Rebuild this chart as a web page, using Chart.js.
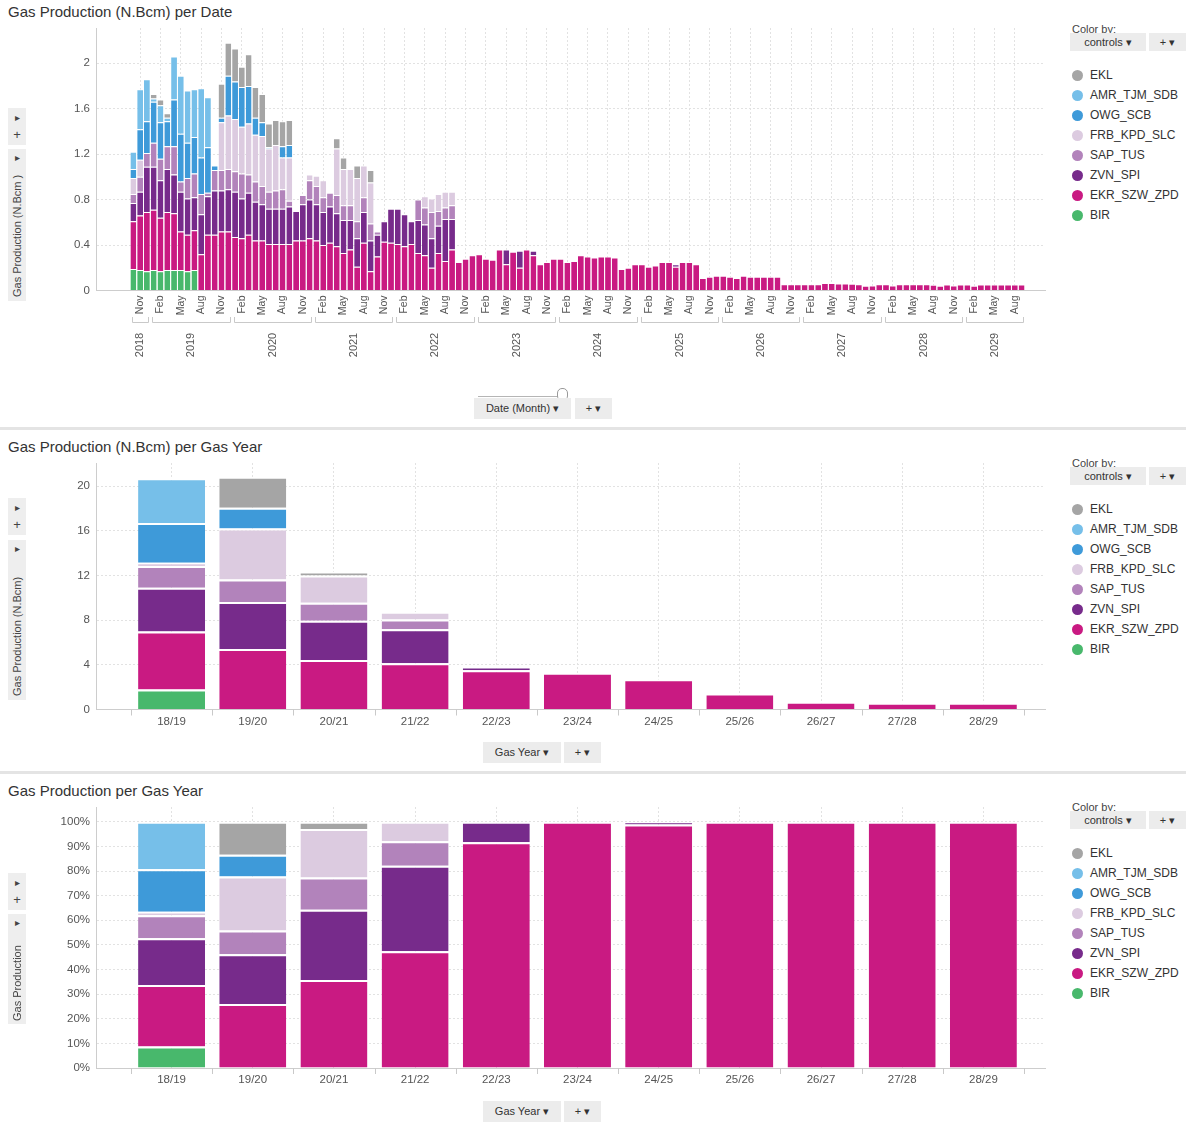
<!DOCTYPE html>
<html>
<head>
<meta charset="utf-8">
<script src="https://cdn.jsdelivr.net/npm/chart.js@4.4.1/dist/chart.umd.min.js"></script>
<style>
  body { margin: 0; background: #fff; font-family: "Liberation Sans", Arial, sans-serif; color: #333; }
  #page { position: relative; width: 1186px; height: 1122px; overflow: hidden; }
  canvas { position: absolute; left: 0; }
  .title { position: absolute; left: 8px; font-size: 15px; color: #333; white-space: nowrap; }
  .sep { position: absolute; left: 0; width: 1186px; height: 3px; background: #e4e4e4; }
  .box { position: absolute; background: #ececec; font-size: 11px; color: #333; line-height: 20px; text-align: center; white-space: nowrap; z-index: 2; }
  .tb { position: absolute; left: 8px; width: 18px; background: #eeeeee; font-size: 10px; color: #444; z-index: 2; }
  .tb span { position: absolute; left: 0; width: 18px; text-align: center; }
  .vlabel { position: absolute; white-space: nowrap; font-size: 11px; color: #444; transform: rotate(-90deg); transform-origin: left top; }
  .colorby { position: absolute; left: 1072px; font-size: 11px; color: #444; }
  .leg { position: absolute; left: 1072px; font-size: 12px; color: #333; white-space: nowrap; line-height: 14px; }
  .leg i { display: inline-block; width: 11px; height: 11px; border-radius: 50%; vertical-align: -2px; margin-right: 7px; }
</style>
</head>
<body>
<div id="page">
  <div class="title" style="top:3px">Gas Production (N.Bcm) per Date</div>
  <div class="title" style="top:438px">Gas Production (N.Bcm) per Gas Year</div>
  <div class="title" style="top:782px">Gas Production per Gas Year</div>
  <div class="sep" style="top:427px"></div>
  <div class="sep" style="top:771px"></div>

  <canvas id="c1" width="1060" height="400" style="top:0"></canvas>
  <canvas id="c2" width="1060" height="340" style="top:430px"></canvas>
  <canvas id="c3" width="1060" height="347" style="top:775px"></canvas>

  <!-- left toolbars -->
  <div class="tb" style="top:108px;height:37px"><span style="top:4px">&#9656;</span><span style="top:19px;font-size:13px">+</span></div>
  <div class="tb" style="top:149px;height:152px"><span style="top:3px">&#9656;</span><div class="vlabel" style="left:3px;top:148px">Gas Production (N.Bcm )</div></div>
  <div class="tb" style="top:498px;height:37px"><span style="top:4px">&#9656;</span><span style="top:19px;font-size:13px">+</span></div>
  <div class="tb" style="top:540px;height:160px"><span style="top:3px">&#9656;</span><div class="vlabel" style="left:3px;top:156px">Gas Production (N.Bcm)</div></div>
  <div class="tb" style="top:873px;height:37px"><span style="top:4px">&#9656;</span><span style="top:19px;font-size:13px">+</span></div>
  <div class="tb" style="top:914px;height:110px"><span style="top:3px">&#9656;</span><div class="vlabel" style="left:3px;top:107px">Gas Production</div></div>

  <!-- bottom selectors -->
  <div style="position:absolute;left:478px;top:396px;width:82px;height:1px;background:#b5b5b5"></div>
  <div style="position:absolute;left:557px;top:388px;width:9px;height:11px;border:1px solid #999;border-radius:5px;background:#fff"></div>
  <div class="box" style="left:474px;top:398px;width:97px;height:21px">Date (Month) &#9662;</div>
  <div class="box" style="left:575px;top:398px;width:37px;height:21px">+ &#9662;</div>
  <div class="box" style="left:483px;top:742px;width:78px;height:21px">Gas Year &#9662;</div>
  <div class="box" style="left:564px;top:742px;width:37px;height:21px">+ &#9662;</div>
  <div class="box" style="left:483px;top:1101px;width:78px;height:21px">Gas Year &#9662;</div>
  <div class="box" style="left:564px;top:1101px;width:37px;height:21px">+ &#9662;</div>

  <div id="legends"></div>
</div>

<script>
// series, bottom of the stack first
const seriesNames = ['BIR', 'EKR_SZW_ZPD', 'ZVN_SPI', 'SAP_TUS', 'FRB_KPD_SLC', 'OWG_SCB', 'AMR_TJM_SDB', 'EKL'];
const seriesColors = ['#48b86c', '#c91a82', '#772b8b', '#b283bb', '#dccbe0', '#3e9ad9', '#76bfe9', '#a5a5a5'];

// monthly production, N.Bcm, first value = Oct 2018
const startYear = 2018, startMonth = 9, monthCount = 132;
const years = [2018, 2019, 2020, 2021, 2022, 2023, 2024, 2025, 2026, 2027, 2028, 2029];
const monthTicks = {1: 'Feb', 4: 'May', 7: 'Aug', 10: 'Nov'};

const birMonthly = [0.19, 0.18, 0.17, 0.18, 0.17, 0.18, 0.18, 0.18, 0.17, 0.18];
const ekrMonthly = [
  0.42, 0.48, 0.52, 0.53, 0.47, 0.51, 0.50, 0.34, 0.32, 0.35, 0.32, 0.49,
  0.49, 0.52, 0.52, 0.47, 0.46, 0.49, 0.44, 0.44, 0.41, 0.41, 0.41, 0.41,
  0.44, 0.44, 0.46, 0.44, 0.40, 0.42, 0.39, 0.33, 0.36, 0.21, 0.42, 0.17,
  0.30, 0.43, 0.42, 0.41, 0.39, 0.41, 0.33, 0.31, 0.20, 0.33, 0.26, 0.36,
  0.25, 0.28, 0.31, 0.32, 0.28, 0.27, 0.36, 0.23, 0.34, 0.20, 0.36, 0.31,
  0.23, 0.25, 0.28, 0.28, 0.25, 0.26, 0.31, 0.30, 0.29, 0.30, 0.30, 0.29,
  0.19, 0.20, 0.23, 0.23, 0.21, 0.22, 0.25, 0.25, 0.21, 0.25, 0.25, 0.23,
  0.11, 0.12, 0.13, 0.13, 0.12, 0.11, 0.13, 0.12, 0.12, 0.12, 0.12, 0.12,
  0.055, 0.055, 0.055, 0.055, 0.055, 0.055, 0.065, 0.065, 0.062, 0.062, 0.06, 0.055,
  0.042, 0.045, 0.055, 0.055, 0.045, 0.055, 0.055, 0.055, 0.055, 0.055, 0.05, 0.042,
  0.052, 0.045, 0.052, 0.052, 0.042, 0.052, 0.052, 0.052, 0.052, 0.052, 0.052, 0.052
];
const zvnMonthly = [
  0.16, 0.21, 0.40, 0.38, 0.33, 0.38, 0.34, 0.35, 0.32, 0.29, 0.35, 0.34,
  0.39, 0.36, 0.37, 0.40, 0.35, 0.37, 0.34, 0.32, 0.31, 0.31, 0.31, 0.33,
  0.26, 0.32, 0.34, 0.32, 0.29, 0.32, 0.29, 0.29, 0.26, 0.25, 0.27, 0.27,
  0.19, 0.18, 0.30, 0.31, 0.28, 0.20, 0.29, 0.27, 0.26, 0.24, 0.37, 0.27,
  0, 0, 0, 0, 0, 0, 0, 0.13, 0, 0.15, 0, 0.04,
  0, 0, 0, 0, 0, 0, 0, 0, 0, 0, 0, 0,
  0, 0, 0, 0, 0, 0, 0, 0, 0.02
];
const sapMonthly = [
  0.08, 0.13, 0.12, 0.21, 0.19, 0.20, 0.25, 0.09, 0.18, 0.21, 0.18, 0.03,
  0.18, 0.18, 0.18, 0.18, 0.22, 0.16, 0.18, 0.16, 0.15, 0.16, 0.17, 0.05,
  0, 0.08, 0.17, 0.16, 0.13, 0.12, 0.16, 0.13, 0.13, 0.15, 0.13, 0.15,
  0.03, 0, 0, 0, 0, 0, 0.18, 0.15, 0.23, 0.13, 0.10, 0.12
];
const frbMonthly = [
  0.14, 0.15, 0, 0, 0, 0, 0, 0, 0, 0, 0, 0,
  0, 0.42, 0.47, 0.46, 0.41, 0.45, 0.41, 0.44, 0.38, 0.40, 0.28, 0.38,
  0, 0, 0.05, 0.09, 0.15, 0, 0.41, 0.32, 0.32, 0.38, 0.28, 0.36,
  0, 0, 0, 0, 0, 0, 0, 0.10, 0.12, 0.15, 0.14, 0.12
];
const owgMonthly = [
  0.08, 0.27, 0.28, 0.36, 0.32, 0.22, 0.41, 0.42, 0.31, 0.32, 0.32, 0.40,
  0.04, 0.04, 0.35, 0.33, 0.35, 0.33, 0.15, 0.12, 0.01, 0, 0.10, 0.11
];
const amrMonthly = [0.15, 0.35, 0.37, 0.03, 0.15, 0.03, 0.38, 0.51, 0.46, 0.42, 0.61, 0.44];
const eklMonthly = [
  0, 0, 0, 0.04, 0.05, 0.04, 0, 0, 0, 0, 0, 0,
  0, 0.30, 0.29, 0.29, 0.18, 0.28, 0.27, 0.25, 0.21, 0.22, 0.22, 0.22,
  0, 0, 0, 0, 0, 0, 0.09, 0.10, 0, 0.11, 0, 0.11
];
const monthly = [birMonthly, ekrMonthly, zvnMonthly, sapMonthly, frbMonthly, owgMonthly, amrMonthly, eklMonthly];

// production per gas year, N.Bcm
const gasYears = ['18/19', '19/20', '20/21', '21/22', '22/23', '23/24', '24/25', '25/26', '26/27', '27/28', '28/29'];
const birYearly = [1.8, 0, 0, 0, 0, 0, 0, 0, 0, 0, 0];
const ekrYearly = [5.18, 5.41, 4.42, 4.15, 3.52, 3.30, 2.70, 1.44, 0.70, 0.61, 0.61];
const zvnYearly = [3.92, 4.21, 3.52, 3.04, 0.32, 0, 0.03, 0, 0, 0, 0];
const sapYearly = [1.94, 2.02, 1.62, 0.87, 0, 0, 0, 0, 0, 0, 0];
const frbYearly = [0.30, 4.56, 2.44, 0.69, 0, 0, 0, 0, 0, 0, 0];
const owgYearly = [3.56, 1.85, 0, 0, 0, 0, 0, 0, 0, 0, 0];
const amrYearly = [4.0, 0, 0, 0, 0, 0, 0, 0, 0, 0, 0];
const eklYearly = [0, 2.79, 0.36, 0, 0, 0, 0, 0, 0, 0, 0];
const yearly = [birYearly, ekrYearly, zvnYearly, sapYearly, frbYearly, owgYearly, amrYearly, eklYearly];

const yearTotals = gasYears.map((g, i) => yearly.reduce((s, a) => s + a[i], 0));

Chart.defaults.font.family = '"Liberation Sans", Arial, sans-serif';
Chart.defaults.font.size = 11.5;
Chart.defaults.color = '#555';

const gridColor = '#e2e2e2';
const axisColor = '#cdcdcd';
const clear = 'rgba(0,0,0,0)';

function monthLabel(v) {
  if (!Number.isInteger(v) || v < 0 || v >= monthCount) return '';
  return monthTicks[(startMonth + v) % 12] || '';
}
function yearLabel(v) {
  return (Number.isInteger(v) && gasYears[v]) ? gasYears[v] : '';
}

// year brackets and labels under the month ticks
const yearAxis = {
  id: 'yearAxis',
  afterDraw(chart) {
    const xs = chart.scales.x, ctx = chart.ctx;
    ctx.save();
    ctx.strokeStyle = '#c9c9c9';
    ctx.fillStyle = '#555';
    ctx.lineWidth = 1;
    ctx.font = '11px "Liberation Sans", Arial, sans-serif';
    ctx.textAlign = 'center';
    ctx.textBaseline = 'middle';
    years.forEach(y => {
      const first = Math.max(0, (y - startYear) * 12 - startMonth);
      const last = Math.min(monthCount - 1, (y - startYear) * 12 - startMonth + 11);
      const x0 = Math.round(xs.getPixelForValue(first - 0.5)) + 2;
      const x1 = Math.round(xs.getPixelForValue(last + 0.5)) - 2;
      ctx.beginPath();
      ctx.moveTo(x0 + 0.5, 317); ctx.lineTo(x0 + 0.5, 322.5);
      ctx.lineTo(x1 + 0.5, 322.5); ctx.lineTo(x1 + 0.5, 317);
      ctx.stroke();
      ctx.save();
      ctx.translate((x0 + x1) / 2, 345);
      ctx.rotate(-Math.PI / 2);
      ctx.fillText(String(y), 0, 0);
      ctx.restore();
    });
    ctx.restore();
  }
};

// small marks between gas years on the category axis
const yearMarks = {
  id: 'yearMarks',
  afterDraw(chart) {
    const xs = chart.scales.x, ctx = chart.ctx, b = chart.chartArea.bottom;
    ctx.save();
    ctx.strokeStyle = '#c9c9c9';
    ctx.lineWidth = 1;
    for (let i = -1; i < gasYears.length; i++) {
      const x = Math.round(xs.getPixelForValue(i + 0.5)) + 0.5;
      ctx.beginPath(); ctx.moveTo(x, b); ctx.lineTo(x, b + 6); ctx.stroke();
    }
    ctx.restore();
  }
};

function baseOptions(padTop, x, y) {
  return {
    responsive: false,
    animation: false,
    layout: {padding: {top: padTop, right: 15, left: 0, bottom: 0}},
    plugins: {legend: {display: false}, tooltip: {enabled: false}},
    scales: {x: x, y: y}
  };
}

// chart 1: per month
new Chart(document.getElementById('c1'), {
  type: 'bar',
  data: {
    datasets: monthly.map((arr, k) => ({
      label: seriesNames[k],
      data: arr.map((v, i) => ({x: i, y: v})),
      backgroundColor: seriesColors[k],
      borderColor: '#ffffff',
      borderWidth: {top: 1, left: 0, right: 0, bottom: 0},
      borderSkipped: false,
      barPercentage: 0.86,
      categoryPercentage: 1
    }))
  },
  options: baseOptions(28, {
    type: 'linear', stacked: true, offset: false, min: -5.51, max: 134.45,
    afterFit(s) { s.height = 109.5; },
    ticks: {stepSize: 1, autoSkip: false, includeBounds: false, minRotation: 90, maxRotation: 90,
            padding: 5, font: {size: 10.5}, callback: v => monthLabel(v)},
    grid: {offset: false, drawTicks: false, color: c => (c.tick && monthLabel(c.tick.value)) ? gridColor : clear},
    border: {color: axisColor, dash: [2, 2]}
  }, {
    stacked: true, min: 0, max: 2.31,
    afterFit(s) { s.width = 96; },
    ticks: {stepSize: 0.4, includeBounds: false, padding: 6, callback: v => String(Math.round(v * 10) / 10)},
    grid: {drawTicks: false, color: gridColor},
    border: {color: axisColor, dash: [2, 2]}
  }),
  plugins: [yearAxis]
});

function yearChart(id, padTop, xHeight, yMax, step, values, fmt) {
  new Chart(document.getElementById(id), {
    type: 'bar',
    data: {
      datasets: values.map((arr, k) => ({
        label: seriesNames[k],
        data: arr.map((v, i) => ({x: i, y: v})),
        backgroundColor: seriesColors[k],
        borderColor: '#ffffff',
        borderWidth: {top: 2, left: 0, right: 0, bottom: 0},
        borderSkipped: false,
        barPercentage: 0.825,
        categoryPercentage: 1
      }))
    },
    options: baseOptions(padTop, {
      type: 'linear', stacked: true, offset: false, min: -0.931, max: 10.759,
      afterFit(s) { s.height = xHeight; },
      ticks: {stepSize: 1, autoSkip: false, includeBounds: false, maxRotation: 0, padding: 5,
              callback: v => yearLabel(v)},
      grid: {offset: false, drawTicks: false, color: c => (c.tick && yearLabel(c.tick.value)) ? gridColor : clear},
      border: {color: axisColor, dash: [2, 2]}
    }, {
      stacked: true, min: 0, max: yMax,
      afterFit(s) { s.width = 96; },
      ticks: {stepSize: step, includeBounds: false, padding: 6, callback: fmt},
      grid: {drawTicks: false, color: gridColor},
      border: {color: axisColor, dash: [2, 2]}
    }),
    plugins: [yearMarks]
  });
}

yearChart('c2', 33, 60.5, 22.06, 4, yearly, v => v);
const percent = yearly.map(arr => arr.map((v, i) => v / yearTotals[i] * 100));
yearChart('c3', 32, 54, 106, 10, percent, v => v + '%');

// legends (top of the stack first)
const legendTops = [23, 457, 801];
let html = '';
legendTops.forEach(t => {
  html += '<div class="colorby" style="top:' + t + 'px">Color by:</div>';
  html += '<div class="box" style="left:1070px;top:' + (t + 10) + 'px;width:76px;height:18px;line-height:18px">controls &#9662;</div>';
  html += '<div class="box" style="left:1149px;top:' + (t + 10) + 'px;width:37px;height:18px;line-height:18px">+ &#9662;</div>';
  for (let j = 0; j < seriesNames.length; j++) {
    const k = seriesNames.length - 1 - j;
    html += '<div class="leg" style="top:' + (t + 45 + j * 20) + 'px"><i style="background:' + seriesColors[k] + '"></i>' + seriesNames[k] + '</div>';
  }
});
document.getElementById('legends').innerHTML = html;
</script>
</body>
</html>
